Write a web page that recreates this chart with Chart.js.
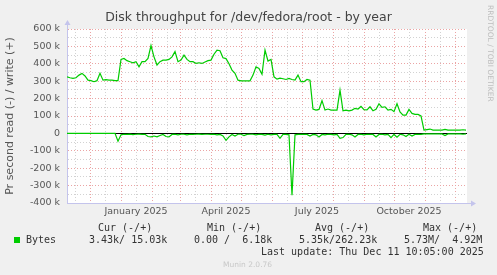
<!DOCTYPE html>
<html>
<head>
<meta charset="utf-8">
<script src="https://cdn.jsdelivr.net/npm/chart.js@4.4.1/dist/chart.umd.min.js"></script>
<style>
  html, body { margin: 0; padding: 0; background: #f0f0f0; }
</style>
</head>
<body>
<canvas id="chart" width="497" height="275"></canvas>
<script>
// one sample every 3 days, first sample = 8 Nov 2024 (values in k bytes/s)
var startDate = Date.UTC(2024, 10, 8);
var stepDays = 3;
var lastDay = 400;

var writeK = [
  325, 320, 316, 320, 335, 345, 330, 306, 303, 297,
  303, 345, 306, 309, 306, 306, 303, 303, 425, 431,
  418, 412, 406, 412, 383, 412, 412, 431, 505, 440,
  393, 412, 421, 421, 425, 440, 470, 412, 421, 450,
  425, 412, 412, 402, 406, 402, 410, 418, 421, 455,
  479, 475, 435, 430, 400, 364, 345, 306, 302, 302,
  302, 302, 335, 383, 373, 340, 479, 416, 425, 325,
  312, 318, 314, 310, 316, 310, 306, 335, 297, 297,
  310, 306, 140, 134, 138, 188, 134, 140, 134, 134,
  134, 249, 130, 134, 130, 134, 144, 140, 155, 136,
  135, 153, 130, 138, 170, 150, 153, 134, 138, 125,
  170, 123, 105, 105, 138, 115, 109, 109, 100, 19,
  22, 25, 19, 19, 19, 19, 23, 19, 19, 19,
  19, 19, 21, 19
];

var readK = [
  0, 0, 0, 0, 0, 0, 0, 0, 0, 0,
  0, 0, 0, 0, 0, 0, 0, 45, 8, 5,
  6, 4, 7, 5, 4, 6, 5, 18, 20, 15,
  20, 12, 6, 18, 20, 6, 5, 8, 5, 5,
  8, 5, 6, 5, 4, 6, 5, 5, 6, 5,
  8, 6, 15, 40, 20, 6, 15, 5, 5, 12,
  6, 5, 5, 8, 5, 6, 10, 5, 8, 6,
  5, 28, 6, 6, 8, 355, 8, 6, 5, 6,
  6, 15, 6, 8, 20, 6, 8, 5, 6, 8,
  6, 28, 24, 6, 5, 8, 20, 6, 5, 8,
  5, 6, 6, 20, 6, 5, 8, 6, 24, 6,
  22, 5, 8, 18, 5, 15, 6, 5, 6, 3,
  3, 2, 3, 2, 3, 3, 12, 3, 2, 3,
  2, 3, 5, 3
];

var monthNames = ['January', 'February', 'March', 'April', 'May', 'June', 'July',
  'August', 'September', 'October', 'November', 'December'];
var labelMonths = [0, 3, 6, 9];

var legendHeads = ['Cur (-/+)', 'Min (-/+)', 'Avg (-/+)', 'Max (-/+)'];
var bytesVals = ['3.43k/ 15.03k', '0.00 /  6.18k', '5.35k/262.23k', '5.73M/  4.92M'];
var lastUpdate = 'Last update: Thu Dec 11 10:05:00 2025';
var version = 'Munin 2.0.76';

var GREEN = '#00cc00';
var MAJOR = '#eba4a4';
var MINOR = '#d2d2d2';
var AXIS = '#c4c4ec';

// month grid: red on the 1st, grey mid month
var majorTicks = [];
var allTicks = [];
var tickLabels = {};
for (var y = 2024; y <= 2025; y++) {
  for (var m = 0; m < 12; m++) {
    var d0 = Math.round((Date.UTC(y, m, 1) - startDate) / 86400000);
    var mid = d0 + 15;
    if (d0 >= 0 && d0 <= lastDay) { majorTicks.push(d0); allTicks.push(d0); }
    if (mid >= 0 && mid <= lastDay) {
      allTicks.push(mid);
      if (labelMonths.indexOf(m) >= 0) tickLabels[mid] = monthNames[m] + ' ' + y;
    }
  }
}

function toPoints(vals, sign) {
  var pts = [];
  for (var i = 0; i < vals.length; i++) {
    pts.push({x: i * stepDays, y: sign * vals[i]});
  }
  return pts;
}

var muninPlugin = {
  id: 'munin',
  beforeDraw: function (chart) {
    var ctx = chart.ctx, a = chart.chartArea;
    ctx.save();
    ctx.fillStyle = '#f0f0f0';
    ctx.fillRect(0, 0, chart.width, chart.height);
    ctx.fillStyle = '#ffffff';
    ctx.fillRect(a.left, a.top, a.right - a.left, a.bottom - a.top);
    ctx.restore();
  },
  afterDraw: function (chart) {
    var ctx = chart.ctx, a = chart.chartArea;
    ctx.save();
    // axis arrows
    ctx.strokeStyle = AXIS;
    ctx.fillStyle = AXIS;
    ctx.lineWidth = 1;
    ctx.beginPath();
    ctx.moveTo(a.left + 0.5, a.top);
    ctx.lineTo(a.left + 0.5, a.top - 5);
    ctx.moveTo(a.right, a.bottom + 0.5);
    ctx.lineTo(a.right + 5, a.bottom + 0.5);
    ctx.stroke();
    ctx.beginPath();
    ctx.moveTo(a.left - 2.5, a.top - 4);
    ctx.lineTo(a.left + 3.5, a.top - 4);
    ctx.lineTo(a.left + 0.5, a.top - 9);
    ctx.closePath();
    ctx.fill();
    ctx.beginPath();
    ctx.moveTo(a.right + 4, a.bottom - 2.5);
    ctx.lineTo(a.right + 4, a.bottom + 3.5);
    ctx.lineTo(a.right + 9, a.bottom + 0.5);
    ctx.closePath();
    ctx.fill();

    // legend
    ctx.font = '10px "DejaVu Sans Mono"';
    ctx.fillStyle = '#333';
    ctx.textBaseline = 'middle';
    ctx.textAlign = 'left';
    var cols = [98, 207, 315, 423];
    var vcols = [89, 194, 299, 404];
    for (var i = 0; i < legendHeads.length; i++) {
      ctx.fillText(legendHeads[i], cols[i], 228);
      ctx.fillText(bytesVals[i], vcols[i], 240);
    }
    ctx.fillText('Bytes', 26, 240);
    ctx.fillText(lastUpdate, 261, 252);
    ctx.fillStyle = GREEN;
    ctx.fillRect(14, 237, 6, 6);

    ctx.font = '7.5px "DejaVu Sans"';
    ctx.fillStyle = '#c8c8c8';
    ctx.fillText(version, 223, 265);

    ctx.fillStyle = '#bdbdbd';
    ctx.translate(490, 5);
    ctx.rotate(Math.PI / 2);
    ctx.fillText('RRDTOOL / TOBI OETIKER', 0, 0);
    ctx.restore();
  }
};

Chart.defaults.font.family = '"DejaVu Sans"';

new Chart(document.getElementById('chart'), {
  type: 'line',
  data: {
    datasets: [{
      label: 'read',
      data: toPoints(readK, -1),
      borderColor: GREEN,
      borderWidth: 1.2,
      pointRadius: 0,
      tension: 0
    }, {
      label: 'write',
      data: toPoints(writeK, 1),
      borderColor: GREEN,
      borderWidth: 1.2,
      pointRadius: 0,
      tension: 0
    }]
  },
  options: {
    responsive: false,
    animation: false,
    devicePixelRatio: 1,
    layout: {padding: {left: 0, right: 0, top: 0, bottom: 52}},
    plugins: {
      legend: {display: false},
      tooltip: {enabled: false},
      title: {
        display: true,
        text: 'Disk throughput for /dev/fedora/root - by year',
        color: '#444',
        font: {size: 12.5, weight: 'normal'},
        padding: {top: 10.5, bottom: 3.5}
      }
    },
    scales: {
      x: {
        type: 'linear',
        min: 0,
        max: lastDay,
        afterBuildTicks: function (s) {
          s.ticks = allTicks.map(function (v) { return {value: v}; });
        },
        afterFit: function (s) { s.height = 20; },
        ticks: {
          autoSkip: false,
          maxRotation: 0,
          padding: 3,
          color: '#555',
          font: {size: 9.5},
          callback: function (v) { return tickLabels[v] || ''; }
        },
        grid: {
          drawTicks: false,
          color: function (c) {
            return c.tick && majorTicks.indexOf(c.tick.value) >= 0 ? MAJOR : MINOR;
          }
        },
        border: {color: AXIS, dash: [1, 2]}
      },
      y: {
        min: -400,
        max: 600,
        afterFit: function (s) { s.width = 67; },
        ticks: {
          stepSize: 50,
          autoSkip: false,
          padding: 7,
          color: '#555',
          font: {size: 9.5},
          callback: function (v) {
            if (v % 100 !== 0) return '';
            return v === 0 ? '0' : v + ' k';
          }
        },
        title: {
          display: true,
          text: 'Pr second read (-) / write (+)',
          color: '#555',
          font: {size: 11},
          padding: {top: 4, bottom: 0}
        },
        grid: {
          drawTicks: false,
          color: function (c) {
            if (!c.tick) return MINOR;
            if (c.tick.value === 0) return '#000';
            return c.tick.value % 100 === 0 ? MAJOR : MINOR;
          }
        },
        border: {
          color: AXIS,
          dash: function (c) {
            return c.tick && c.tick.value === 0 ? [] : [1, 2];
          }
        }
      },
      yR: {
        position: 'right',
        display: true,
        ticks: {display: false},
        grid: {display: false},
        border: {display: false},
        afterFit: function (s) { s.width = 30; }
      }
    }
  },
  plugins: [muninPlugin]
});
</script>
</body>
</html>
